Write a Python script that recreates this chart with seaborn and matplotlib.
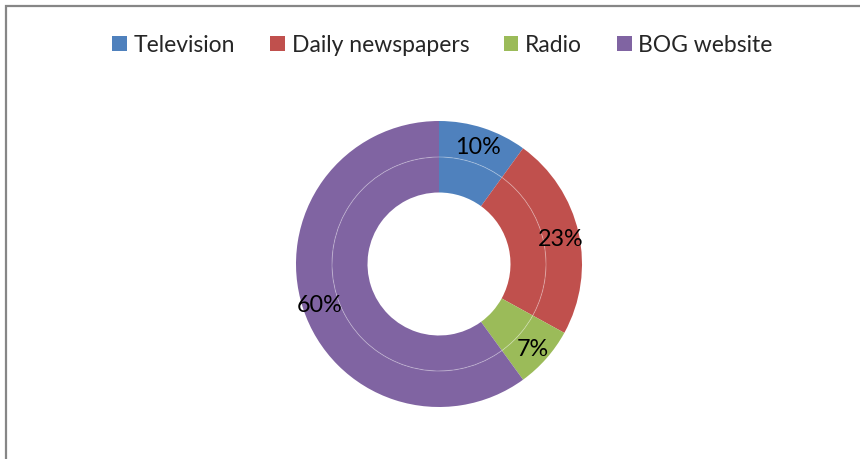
import matplotlib
matplotlib.use("Agg")
import matplotlib.pyplot as plt
import matplotlib.transforms as mtransforms
from matplotlib.patches import Patch, Circle
import seaborn as sns

# Share of respondents by information source
categories = ["Television", "Daily newspapers", "Radio", "BOG website"]
shares = [10, 23, 7, 60]
colors = ["#4F81BD", "#C0504D", "#9BBB59", "#8064A2"]

sns.set_theme(style="white")
plt.rcParams["font.family"] = ["Lato", "DejaVu Sans"]
palette = sns.color_palette(colors)

W, H = 860, 459
fig = plt.figure(figsize=(W / 100, H / 100), dpi=100)
ax = fig.add_axes([0, 0, 1, 1])

cx, cy = 439, H - 264
outer_r, mid_r, inner_r = 143, 107, 71.5

# Outer ring with percentage labels
_, _, pct_texts = ax.pie(shares, colors=palette, radius=outer_r, center=(cx, cy),
                         startangle=90, counterclock=False,
                         wedgeprops=dict(width=outer_r - mid_r, linewidth=0),
                         autopct="%1.0f%%", pctdistance=125 / outer_r,
                         textprops=dict(fontsize=16.8, color="black"))
# nudge labels slightly down so the digits sit centred on the ring
shift = mtransforms.ScaledTranslation(0, -2 / 72, fig.dpi_scale_trans)
for t in pct_texts:
    t.set_transform(t.get_transform() + shift)

# Inner ring (same series)
ax.pie(shares, colors=palette, radius=mid_r, center=(cx, cy),
       startangle=90, counterclock=False,
       wedgeprops=dict(width=mid_r - inner_r, linewidth=0))
# Faint separator between the two rings
ax.add_patch(Circle((cx, cy), mid_r, fill=False, edgecolor="white",
                    linewidth=0.7, alpha=0.3))

ax.set_xlim(0, W)
ax.set_ylim(0, H)
ax.set_aspect("equal")
ax.axis("off")

# Chart area border
ax.plot([5.5, 5.5, W + 5], [-5, H - 5.5, H - 5.5], color="#868686",
        linewidth=1.6, solid_joinstyle="miter", clip_on=False)

handles = [Patch(facecolor=c, edgecolor="none") for c in palette]
fig.legend(handles, categories, loc="center", bbox_to_anchor=(442.5 / W, (H - 45) / H),
           ncol=4, frameon=False, fontsize=16.5,
           handlelength=0.65, handleheight=0.65, handletextpad=0.3,
           columnspacing=1.5, borderpad=0, borderaxespad=0)

fig.savefig("out.png", dpi=100)
